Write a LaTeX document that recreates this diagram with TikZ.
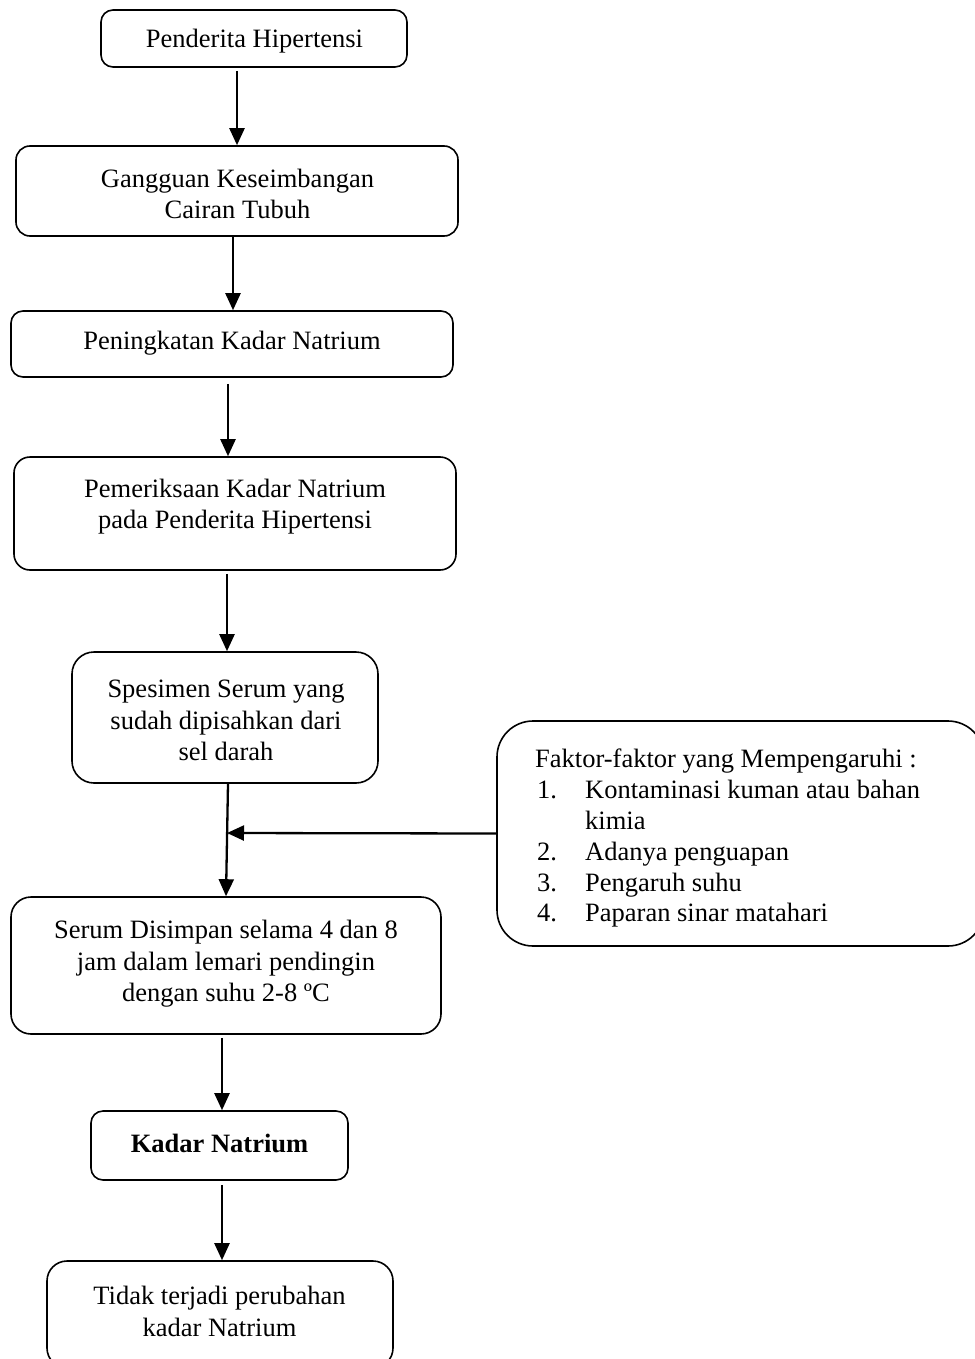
\documentclass[tikz,border=0pt]{standalone}
\usepackage{fontspec}
\setmainfont{Liberation Serif}
\usetikzlibrary{arrows.meta}
\begin{document}
\begin{tikzpicture}[x=1pt,y=-1pt,
  box/.style={draw,line width=1.6pt,inner sep=0pt},
  txt/.style={align=center,inner sep=0pt,font=\fontsize{26.5}{31.5}\selectfont},
  ltxt/.style={align=left,inner sep=0pt,font=\fontsize{26.5}{30.8}\selectfont},
  arr/.style={line width=2.3pt,-{Triangle[width=15pt,length=17pt]}}]
\useasboundingbox (0,0) rectangle (974,1359);
% boxes
\node[box,rounded corners=12pt,minimum width=306pt,minimum height=57pt] (b1) at (254,38.5) {};
\node[box,rounded corners=14pt,minimum width=442pt,minimum height=90pt] (b2) at (237,191) {};
\node[box,rounded corners=12pt,minimum width=442pt,minimum height=66pt] (b3) at (232,344) {};
\node[box,rounded corners=16pt,minimum width=442pt,minimum height=113pt] (b4) at (235,513.5) {};
\node[box,rounded corners=22pt,minimum width=306pt,minimum height=131pt] (b5) at (225,717.5) {};
\node[box,rounded corners=36pt,minimum width=487pt,minimum height=225pt] (b6) at (740.5,833.5) {};
\node[box,rounded corners=20pt,minimum width=430pt,minimum height=137pt] (b7) at (226,965.5) {};
\node[box,rounded corners=12pt,minimum width=257pt,minimum height=69pt] (b8) at (219.5,1145.5) {};
\node[box,rounded corners=20pt,minimum width=346pt,minimum height=107pt] (b9) at (220,1314.5) {};
% texts
\node[txt] (t1) at (254.5,41) {Penderita Hipertensi};
\node[txt] (t2) at (237.5,194) {Gangguan Keseimbangan\\Cairan Tubuh};
\node[txt] (t3) at (232,343) {Peningkatan Kadar Natrium};
\node[txt] (t4) at (235,506.5) {Pemeriksaan Kadar Natrium\\pada Penderita Hipertensi};
\node[txt] (t5) at (226,720.5) {Spesimen Serum yang\\sudah dipisahkan dari\\sel darah};
\node[txt] (t7) at (226,964) {Serum Disimpan selama 4 dan 8\\jam dalam lemari pendingin\\dengan suhu 2-8 ºC};
\node[txt,font=\fontsize{26.5}{31.5}\selectfont\bfseries] (t8) at (219.5,1143) {Kadar Natrium};
\node[txt] (t9) at (219.5,1311.5) {Tidak terjadi perubahan\\kadar Natrium};
\node[ltxt,anchor=north west] (t6) at (535,749) {Faktor-faktor yang Mempengaruhi :\\
\hspace*{2pt}\makebox[48pt][l]{1.}Kontaminasi kuman atau bahan\\
\hspace*{50pt}kimia\\
\hspace*{2pt}\makebox[48pt][l]{2.}Adanya penguapan\\
\hspace*{2pt}\makebox[48pt][l]{3.}Pengaruh suhu\\
\hspace*{2pt}\makebox[48pt][l]{4.}Paparan sinar matahari};
% arrow x positions
\coordinate (x1) at (237,0);
\coordinate (x2) at (233,0);
\coordinate (x3) at (228,0);
\coordinate (x4) at (227,0);
\coordinate (x5a) at (228,0);
\coordinate (x5b) at (226,0);
\coordinate (x7) at (222,0);
\coordinate (j) at (227,833);
% arrows
\draw[arr] ([yshift=-3pt]b1.south -| x1) -- (b2.north -| x1);
\draw[arr] (b2.south -| x2) -- (b3.north -| x2);
\draw[arr] ([yshift=-6pt]b3.south -| x3) -- (b4.north -| x3);
\draw[arr] ([yshift=-3pt]b4.south -| x4) -- (b5.north -| x4);
\draw[arr] (b5.south -| x5a) -- (b7.north -| x5b);
\draw[arr] (b6.west) -- (j);
\draw[arr] ([yshift=-3pt]b7.south -| x7) -- (b8.north -| x7);
\draw[arr] ([yshift=-4pt]b8.south -| x7) -- (b9.north -| x7);
\end{tikzpicture}
\end{document}
